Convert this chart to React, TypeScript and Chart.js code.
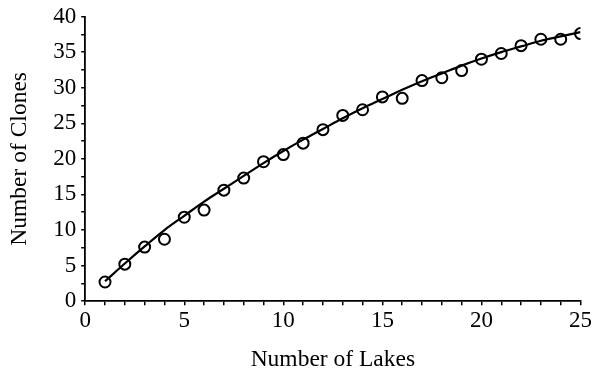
import React, { useEffect, useRef } from "react";
import { Chart, registerables } from "chart.js";

Chart.register(...registerables);

const lakes = [1, 2, 3, 4, 5, 6, 7, 8, 9, 10, 11, 12, 13, 14, 15, 16, 17, 18, 19, 20, 21, 22, 23, 24, 25];
const observedClones = [2.7, 5.2, 7.6, 8.7, 11.8, 12.8, 15.6, 17.3, 19.6, 20.6, 22.2, 24.1, 26.1, 26.9, 28.7, 28.5, 31.0, 31.4, 32.4, 34.0, 34.8, 35.9, 36.8, 36.8, 37.6];
const fittedClones = [2.8, 5.3, 7.7, 10.0, 12.0, 14.0, 15.8, 17.6, 19.4, 21.1, 22.7, 24.2, 25.7, 27.1, 28.4, 29.7, 30.9, 32.0, 33.1, 34.1, 35.0, 35.8, 36.6, 37.2, 37.8];
const xTickLabels = [0, 5, 10, 15, 20, 25];
const yTickLabels = [0, 5, 10, 15, 20, 25, 30, 35, 40];

const FONT = "'Liberation Serif', 'Times New Roman', serif";

export default function App() {
  const ref = useRef<HTMLCanvasElement | null>(null);
  useEffect(() => {
    if (!ref.current) return;
    const chart = new Chart(ref.current, {
      type: "scatter",
      data: {
        datasets: [
          {
            label: "Fitted",
            type: "line",
            data: lakes.map((x, i) => ({ x, y: fittedClones[i] })),
            borderColor: "#000",
            borderWidth: 2.2,
            pointRadius: 0,
            cubicInterpolationMode: "monotone",
            fill: false,
          } as any,
          {
            label: "Observed",
            data: lakes.map((x, i) => ({ x, y: observedClones[i] })),
            borderColor: "#000",
            backgroundColor: "rgba(255,255,255,0)",
            borderWidth: 2,
            pointRadius: 5.5,
            pointStyle: "circle",
          },
        ],
      },
      options: {
        animation: false,
        responsive: false,
        devicePixelRatio: 1,
        layout: { padding: { left: 2, right: 2, top: 2, bottom: 1 } },
        plugins: { legend: { display: false }, tooltip: { enabled: false } },
        scales: {
          x: {
            type: "linear",
            min: 0,
            max: 25,
            border: { color: "#000", width: 1.8 },
            grid: { drawOnChartArea: false, color: "#000", tickLength: 4, lineWidth: 1.5 },
            ticks: {
              stepSize: 1,
              color: "#000",
              font: { family: FONT, size: 23 },
              padding: 2,
              maxRotation: 0,
              autoSkip: false,
              callback: (v: any) => (xTickLabels.includes(Number(v)) ? String(v) : ""),
            },
            title: {
              display: true,
              text: "Number of Lakes",
              color: "#000",
              font: { family: FONT, size: 23.5 },
              padding: { top: 9, bottom: 0 },
            },
          },
          y: {
            type: "linear",
            min: 0,
            max: 40,
            border: { color: "#000", width: 1.8 },
            grid: { drawOnChartArea: false, color: "#000", tickLength: 4, lineWidth: 1.5 },
            ticks: {
              stepSize: 2.5,
              color: "#000",
              font: { family: FONT, size: 23, lineHeight: 1 },
              padding: 5,
              autoSkip: false,
              callback: (v: any) => (yTickLabels.includes(Number(v)) ? String(v) : ""),
            },
            title: {
              display: true,
              text: "Number of Clones",
              color: "#000",
              font: { family: FONT, size: 23.5 },
              padding: { top: 4, bottom: 14 },
            },
          },
        },
      },
    });
    return () => chart.destroy();
  }, []);
  return (
    <div style={{ position: "fixed", left: 0, top: 0, width: 594, height: 375, background: "#fff" }}>
      <canvas ref={ref} width={594} height={375} style={{ width: 594, height: 375 }} />
    </div>
  );
}
